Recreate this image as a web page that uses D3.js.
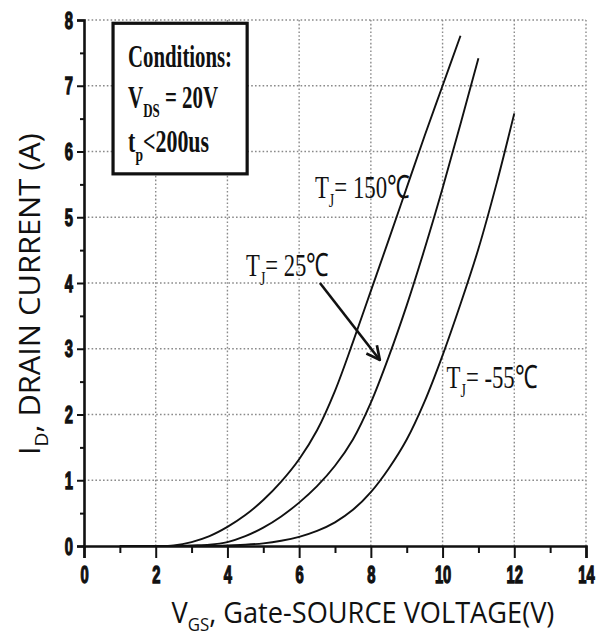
<!DOCTYPE html>
<html>
<head>
<meta charset="utf-8">
<script src="https://cdn.jsdelivr.net/npm/d3@7"></script>
<style>
body { margin: 0; background: #fff; }
svg { display: block; }
</style>
</head>
<body>
<script>
// gate-source voltage samples shared by the three curves (V)
const vgs = [1, 1.5, 2, 2.5, 3, 3.5, 4, 4.5, 5, 5.5, 6, 6.5, 7, 7.5, 8, 8.5, 9, 9.5, 10, 10.5, 11, 11.5, 12];
// drain current (A), null where the curve has ended
const id_150 = [0, 0, 0, 0.01, 0.06, 0.15, 0.29, 0.47, 0.7, 0.98, 1.32, 1.76, 2.36, 3.1, 3.88, 4.66, 5.45, 6.24, 7.0, 7.76, null, null, null];
const id_25 = [0, 0, 0, 0, 0.01, 0.02, 0.06, 0.15, 0.28, 0.45, 0.66, 0.91, 1.22, 1.62, 2.18, 2.88, 3.66, 4.52, 5.44, 6.42, 7.42, null, null];
const id_m55 = [0, 0, 0, 0, 0, 0, 0.01, 0.02, 0.04, 0.08, 0.14, 0.23, 0.36, 0.55, 0.82, 1.18, 1.62, 2.2, 2.9, 3.68, 4.52, 5.5, 6.58];

const x_ticks = [0, 2, 4, 6, 8, 10, 12, 14];
const x_minor = [1, 3, 5, 7, 9, 11, 13];
const y_ticks = [0, 1, 2, 3, 4, 5, 6, 7, 8];
const y_minor = [0.5, 1.5, 2.5, 3.5, 4.5, 5.5, 6.5, 7.5];

const width = 605;
const height = 638;

let svg = d3.select("body").append("svg")
        .attr("width", width)
        .attr("height", height);

svg.append("rect").attr("width", width).attr("height", height).attr("fill", "#fff");

let x = d3.scaleLinear().domain([0, 14]).range([84, 586]);
let y = d3.scaleLinear().domain([0, 8]).range([546, 20]);

// dotted grid
let grid = svg.append("g").attr("stroke", "#8a8a8a").attr("stroke-width", 1.4)
        .attr("stroke-dasharray", "1.6,2.2");
grid.selectAll("line.h").data(y_ticks.slice(1)).join("line")
    .attr("x1", x(0)).attr("x2", x(14))
    .attr("y1", d => y(d)).attr("y2", d => y(d));
grid.selectAll("line.v").data(x_ticks.slice(1)).join("line")
    .attr("y1", y(0)).attr("y2", y(8))
    .attr("x1", d => x(d)).attr("x2", d => x(d));

// label helper: text squeezed horizontally to a target width
let label = function(parent, px, py, parts, opts){
  let outer = parent.append("g")
      .attr("transform", "translate(" + px + "," + py + ")" + (opts.rotate ? " rotate(" + opts.rotate + ")" : ""));
  let inner = outer.append("g");
  let t = inner.append("text")
      .attr("font-family", opts.family)
      .attr("font-size", opts.size)
      .attr("font-weight", opts.weight || "normal")
      .attr("fill", "#111");
  let sub = false;
  parts.forEach(function(p){
    let ts = t.append("tspan").text(p.t);
    if(p.sub && !sub){
      ts.attr("font-size", opts.size * 0.62).attr("dy", opts.size * 0.28);
      sub = true;
    }else if(!p.sub && sub){
      ts.attr("dy", -opts.size * 0.28);
      sub = false;
    }
  });
  let w = t.node().getComputedTextLength();
  let s = opts.target / w;
  if(opts.anchor == "middle"){
    inner.attr("transform", "translate(" + (-opts.target / 2) + ",0) scale(" + s + ",1)");
  }else{
    inner.attr("transform", "scale(" + s + ",1)");
  }
  return outer;
}

// conditions box
svg.append("rect")
   .attr("x", x(0.81)).attr("y", y(7.95))
   .attr("width", x(4.55) - x(0.81)).attr("height", y(5.66) - y(7.95))
   .attr("fill", "#fff").attr("stroke", "#111").attr("stroke-width", 3.2);

const serif = "'Liberation Serif', 'Times New Roman', serif";
label(svg, x(1.23), y(7.28), [{t: "Conditions:"}], {family: serif, size: 32, weight: "bold", target: 104});
label(svg, x(1.23), y(6.66), [{t: "V"}, {t: "DS", sub: true}, {t: " = 20V"}], {family: serif, size: 32, weight: "bold", target: 90});
label(svg, x(1.23), y(5.99), [{t: "t"}, {t: "p", sub: true}, {t: "<200us"}], {family: serif, size: 32, weight: "bold", target: 81});

// curves
let line = d3.line()
    .defined(d => d[1] != null)
    .x(d => x(d[0]))
    .y(d => y(d[1]))
    .curve(d3.curveCatmullRom.alpha(0.5));

[id_m55, id_25, id_150].forEach(function(series){
  svg.append("path")
     .datum(vgs.map((v, i) => [v, series[i]]))
     .attr("d", line)
     .attr("fill", "none")
     .attr("stroke", "#111")
     .attr("stroke-width", 1.9);
});

// curve labels
label(svg, x(6.44), y(5.29), [{t: "T"}, {t: "J", sub: true}, {t: "= 150℃"}], {family: serif, size: 32, target: 95});
label(svg, x(4.52), y(4.1), [{t: "T"}, {t: "J", sub: true}, {t: "= 25℃"}], {family: serif, size: 32, target: 83});
label(svg, x(10.11), y(2.4), [{t: "T"}, {t: "J", sub: true}, {t: "= -55℃"}], {family: serif, size: 32, target: 91});

// arrow pointing at the 25C curve
svg.append("defs").append("marker")
   .attr("id", "head")
   .attr("viewBox", "0 0 12 12")
   .attr("refX", 11).attr("refY", 6)
   .attr("markerWidth", 16).attr("markerHeight", 16)
   .attr("markerUnits", "userSpaceOnUse")
   .attr("orient", "auto")
   .append("path")
   .attr("d", "M1,1 L11,6 L1,11")
   .attr("fill", "none").attr("stroke", "#111").attr("stroke-width", 2);

svg.append("line")
   .attr("x1", x(6.58)).attr("y1", y(4.0))
   .attr("x2", x(8.25)).attr("y2", y(2.83))
   .attr("stroke", "#111").attr("stroke-width", 2.6)
   .attr("marker-end", "url(#head)");

// axes
const tick_font = "'Liberation Sans', Arial, sans-serif";
let x_axis = svg.append("g")
  .attr("transform", "translate(0," + y(0) + ")")
  .call(d3.axisBottom(x).tickValues(x_ticks).tickSize(12).tickFormat(d3.format("d")));
x_axis.append("g").call(d3.axisBottom(x).tickValues(x_minor).tickSize(7).tickFormat(""))
  .select(".domain").remove();
x_axis.selectAll(".tick text")
  .attr("y", 21).attr("dy", "0.71em").attr("x", 0)
  .attr("text-anchor", "middle")
  .attr("transform", "scale(0.64,1)");

let y_axis = svg.append("g")
  .attr("transform", "translate(" + x(0) + ",0)")
  .call(d3.axisLeft(y).tickValues(y_ticks).tickSize(7).tickFormat(d3.format("d")));
y_axis.append("g").call(d3.axisLeft(y).tickValues(y_minor).tickSize(4).tickFormat(""))
  .select(".domain").remove();
y_axis.selectAll(".tick text")
  .attr("x", 0).attr("dy", "0.35em")
  .attr("transform", "translate(-11,0) scale(0.64,1)");

svg.selectAll(".tick text")
  .style("font-family", tick_font).style("font-size", "23px").style("font-weight", "bold")
  .attr("fill", "#111").attr("stroke", "#111").attr("stroke-width", 1.3);

svg.selectAll(".domain").attr("stroke", "#111").attr("stroke-width", 2.6);
svg.selectAll(".tick line").attr("stroke", "#111").attr("stroke-width", 2);

// axis titles
const title_font = "'Open Sans', 'Noto Sans', sans-serif";
label(svg, 39.5, 294, [{t: "I"}, {t: "D", sub: true}, {t: ", DRAIN CURRENT (A)"}],
      {family: title_font, size: 30, target: 322, rotate: -90, anchor: "middle"});
label(svg, 363, 623, [{t: "V"}, {t: "GS", sub: true}, {t: ", Gate-SOURCE VOLTAGE(V)"}],
      {family: title_font, size: 29, target: 383, anchor: "middle"});
</script>
</body>
</html>
